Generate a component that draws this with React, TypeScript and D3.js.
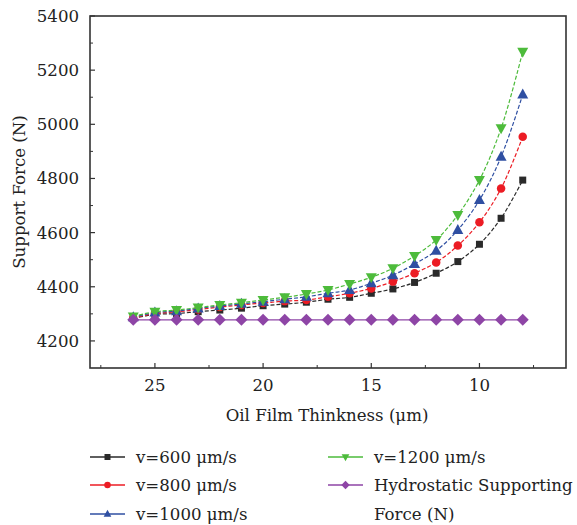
import React from "react";
import * as d3 from "d3";

// Oil film thickness (μm) sampled for each curve
const thickness = [26, 25, 24, 23, 22, 21, 20, 19, 18, 17, 16, 15, 14, 13, 12, 11, 10, 9, 8];

// Support force (N) at each thickness
const v600 = [4283, 4298, 4301, 4308, 4314, 4321, 4330, 4336, 4343, 4354, 4361, 4376, 4392, 4416, 4450, 4493, 4557, 4653, 4794];
const v800 = [4285, 4301, 4307, 4316, 4325, 4333, 4340, 4347, 4351, 4363, 4376, 4394, 4419, 4450, 4490, 4552, 4638, 4763, 4954];
const v1000 = [4287, 4305, 4310, 4320, 4329, 4337, 4345, 4354, 4363, 4376, 4388, 4413, 4443, 4484, 4533, 4610, 4720, 4880, 5110];
const v1200 = [4290, 4308, 4314, 4323, 4333, 4341, 4351, 4361, 4373, 4388, 4410, 4435, 4468, 4514, 4573, 4665, 4794, 4985, 5268];
const hydrostatic = [4278, 4278, 4278, 4278, 4278, 4278, 4278, 4278, 4278, 4278, 4278, 4278, 4278, 4278, 4278, 4278, 4278, 4278, 4278];

const seriesLabels = ["v=600 μm/s", "v=800 μm/s", "v=1000 μm/s", "v=1200 μm/s", "Hydrostatic Supporting|Force (N)"];

const yTicks = [4200, 4400, 4600, 4800, 5000, 5200, 5400];
const yMinor = [4300, 4500, 4700, 4900, 5100, 5300];
const xTicks = [25, 20, 15, 10];
const xMinor = [27.5, 22.5, 17.5, 12.5, 7.5];

type Shape = "square" | "circle" | "triUp" | "triDown" | "diamond";

const series: { values: number[]; color: string; shape: Shape; dashed: boolean }[] = [
  { values: v600, color: "#2a2a2a", shape: "square", dashed: true },
  { values: v800, color: "#ec1c24", shape: "circle", dashed: true },
  { values: v1000, color: "#2f4fa2", shape: "triUp", dashed: true },
  { values: v1200, color: "#4dbb3b", shape: "triDown", dashed: true },
  { values: hydrostatic, color: "#8e45a6", shape: "diamond", dashed: false },
];

const FONT = "'DejaVu Serif', serif";
const FS = 16.6;

function markerPath(shape: Shape, s: number): string {
  switch (shape) {
    case "square":
      return `M${-s / 2},${-s / 2}h${s}v${s}h${-s}Z`;
    case "circle":
      return d3.symbol(d3.symbolCircle, (s * s * Math.PI) / 4)() || "";
    case "triUp":
      return `M0,${-s * 0.6}L${s * 0.55},${s * 0.4}L${-s * 0.55},${s * 0.4}Z`;
    case "triDown":
      return `M0,${s * 0.6}L${s * 0.55},${-s * 0.4}L${-s * 0.55},${-s * 0.4}Z`;
    case "diamond":
      return `M0,${-s * 0.6}L${s * 0.6},0L0,${s * 0.6}L${-s * 0.6},0Z`;
  }
}

export default function App() {
  const W = 577;
  const H = 525;
  const left = 90;
  const right = 566;
  const top = 16;
  const bottom = 368;

  const x = d3.scaleLinear().domain([28, 6]).range([left, right]);
  const y = d3.scaleLinear().domain([4100, 5400]).range([bottom, top]);

  const line = d3
    .line<number>()
    .x((_, i) => x(thickness[i]))
    .y((d) => y(d))
    .curve(d3.curveCatmullRom);

  const axisColor = "#333";

  const legendRows = [457, 485, 514];
  const legendItems = series.map((s, i) => ({
    ...s,
    label: seriesLabels[i],
    lx: i < 3 ? 90 : 328,
    ly: i < 3 ? legendRows[i] : legendRows[i - 3],
  }));

  return (
    <svg width={W} height={H} style={{ position: "absolute", left: 0, top: 0, background: "#fff" }}>
      <rect x={0} y={0} width={W} height={H} fill="#fff" />

      {/* series */}
      {series.map((s, si) => (
        <g key={si}>
          <path
            d={line(s.values) || ""}
            fill="none"
            stroke={s.color}
            strokeWidth={1.2}
            strokeDasharray={s.dashed ? "4,2" : undefined}
          />
          {s.values.map((v, i) => (
            <path
              key={i}
              d={markerPath(s.shape, s.shape === "square" ? 7 : s.shape === "circle" ? 8.5 : 10)}
              transform={`translate(${x(thickness[i])},${y(v)})`}
              fill={s.color}
            />
          ))}
        </g>
      ))}

      {/* frame */}
      <rect x={left} y={top} width={right - left} height={bottom - top} fill="none" stroke={axisColor} strokeWidth={1.6} />

      {/* y ticks */}
      {yTicks.map((t) => (
        <g key={t}>
          <line x1={left} x2={left + 5} y1={y(t)} y2={y(t)} stroke={axisColor} strokeWidth={1.2} />
          <text x={79} y={y(t)} dy="0.36em" textAnchor="end" fontFamily={FONT} fontSize={FS} fill="#222">
            {t}
          </text>
        </g>
      ))}
      {yMinor.map((t) => (
        <line key={t} x1={left} x2={left + 3} y1={y(t)} y2={y(t)} stroke={axisColor} strokeWidth={1} />
      ))}

      {/* x ticks */}
      {xTicks.map((t) => (
        <g key={t}>
          <line x1={x(t)} x2={x(t)} y1={bottom} y2={bottom - 5} stroke={axisColor} strokeWidth={1.2} />
          <text x={x(t)} y={391} textAnchor="middle" fontFamily={FONT} fontSize={FS} fill="#222">
            {t}
          </text>
        </g>
      ))}
      {xMinor.map((t) => (
        <line key={t} x1={x(t)} x2={x(t)} y1={bottom} y2={bottom - 3} stroke={axisColor} strokeWidth={1} />
      ))}

      {/* axis titles */}
      <text x={327} y={421} textAnchor="middle" fontFamily={FONT} fontSize={FS} fill="#222">
        Oil Film Thinkness (μm)
      </text>
      <text
        transform={`translate(25,${(top + bottom) / 2}) rotate(-90)`}
        textAnchor="middle"
        fontFamily={FONT}
        fontSize={FS}
        fill="#222"
      >
        Support Force (N)
      </text>

      {/* legend */}
      {legendItems.map((it, i) => {
        const lines = it.label.split("|");
        return (
          <g key={i}>
            <line x1={it.lx} x2={it.lx + 35} y1={it.ly} y2={it.ly} stroke={it.color} strokeWidth={1.3} />
            <path
              d={markerPath(it.shape, it.shape === "square" ? 6 : it.shape === "circle" ? 6.5 : 7)}
              transform={`translate(${it.lx + 17.5},${it.ly})`}
              fill={it.color}
            />
            {lines.map((l, j) => (
              <text
                key={j}
                x={it.lx + 46}
                y={it.ly + j * 29}
                dy="0.36em"
                fontFamily={FONT}
                fontSize={FS}
                fill="#222"
              >
                {l}
              </text>
            ))}
          </g>
        );
      })}
    </svg>
  );
}
